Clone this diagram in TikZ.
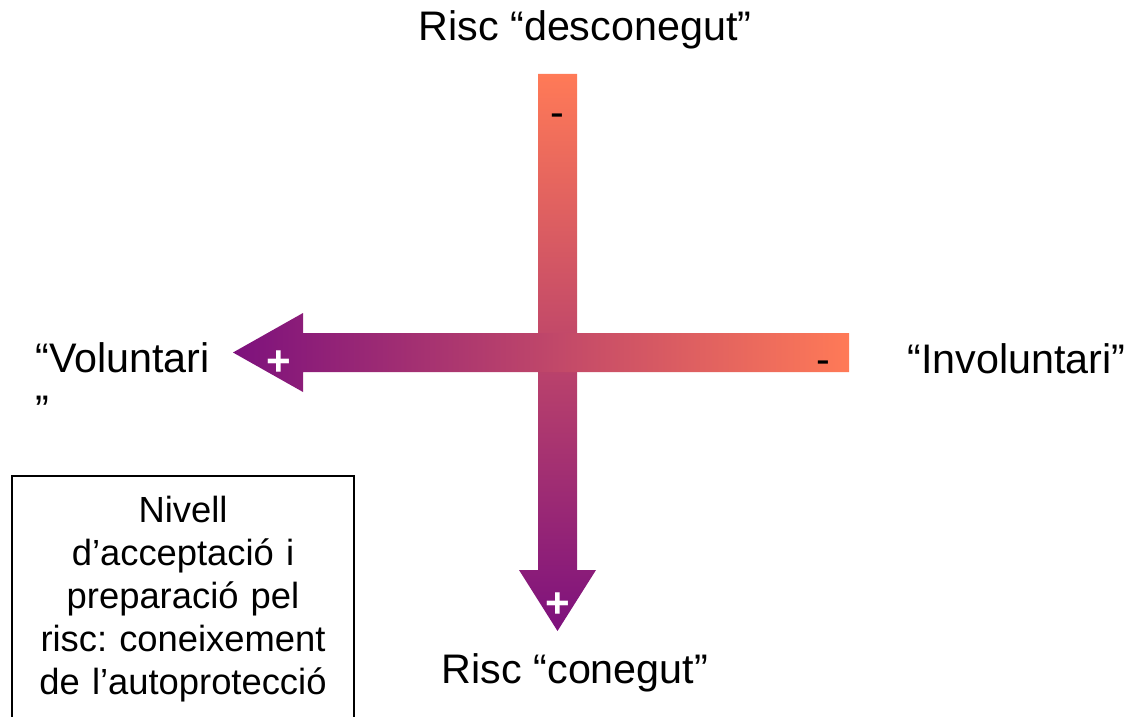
\documentclass[tikz,border=0pt]{standalone}
\usepackage{fontspec}
\setmainfont{Liberation Sans}
\usepackage{tikz}
\frenchspacing
\definecolor{riskorange}{RGB}{255,122,87}
\definecolor{riskpurple}{RGB}{125,17,125}
\tikzset{
    axislabel/.style={inner sep=0pt, font=\fontsize{23.5}{29.5}\selectfont},
    signmark/.style={inner sep=0pt, anchor=base, font=\fontsize{23.5}{29.5}\selectfont},
    notetext/.style={inner sep=0pt, align=center, text width=6.6cm, font=\fontsize{20.7}{24.5}\selectfont},
    notebox/.style={draw=black, line width=0.75pt}
}

\begin{document}
\begin{tikzpicture}[x=0.02cm, y=-0.02cm]
    \useasboundingbox (0,0) rectangle (1131,716);

    \shade[top color=riskorange, bottom color=riskpurple]
        (538,74) -- (577,74) -- (577,570) -- (596,570) -- (557.5,631) -- (519,570) -- (538,570) -- cycle;
    \shade[left color=riskpurple, right color=riskorange]
        (849,333) -- (849,372) -- (303,372) -- (303,392) -- (233,352.5) -- (303,313) -- (303,333) -- cycle;

    \node[signmark] (vminus) at (557.5,127) {-};
    \node[signmark, text=white, font=\fontsize{24}{29.5}\selectfont\bfseries] (vplus) at (557.5,617) {+};
    \node[signmark] (hminus) at (823,373) {-};
    \node[signmark, text=white, font=\fontsize{24}{29.5}\selectfont\bfseries] (hplus) at (279,375) {+};

    \node[axislabel, anchor=base] (unknown) at (585,41) {Risc “desconegut”};
    \node[axislabel, anchor=base] (known) at (575,683) {Risc “conegut”};
    \node[axislabel, anchor=base west] (invol) at (907,373) {“Involuntari”};
    \node[axislabel, anchor=north west, align=left] (vol) at (35,342) {“Voluntari\\”};

    \draw[notebox] (12,740) |- (354,476) -- (354,740);
    \node[notetext, anchor=north] (note) at (183,496)
        {Nivell\\d’acceptació i\\preparació pel\\risc: coneixement\\de l’autoprotecció};
\end{tikzpicture}
\end{document}
